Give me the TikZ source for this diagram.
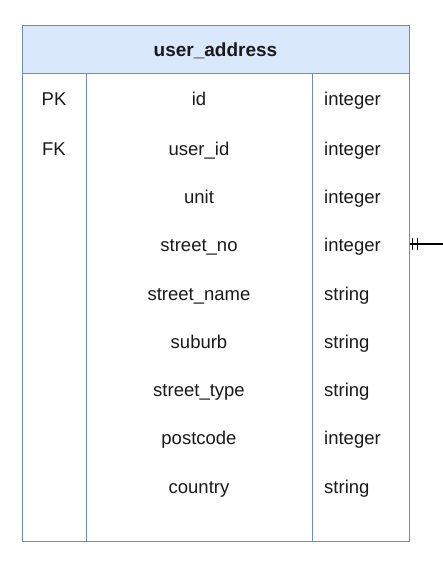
\documentclass[tikz,border=0pt]{standalone}
\usepackage{fontspec}
\setmainfont{Liberation Sans}
\usetikzlibrary{calc}

\definecolor{headfill}{HTML}{DAE8FC}
\definecolor{headline}{HTML}{6C8EBF}
\definecolor{txt}{HTML}{1A1A1A}

\tikzset{
	cell/.style={draw=headline, line width=1pt, inner sep=0pt},
	field/.style={text=txt, font=\fontsize{18.5}{22}\selectfont, inner sep=0pt, text height=16pt, text depth=2pt},
	ftype/.style={field, anchor=west},
}

\begin{document}
\begin{tikzpicture}[x=1pt, y=-1pt]
	\useasboundingbox[fill=white] (0,0) rectangle (443,575);

	% table frame
	\node[cell, minimum width=387pt, minimum height=515pt] (tbl) at (215.5,283.5) {};
	\node[cell, fill=headfill, minimum width=387pt, minimum height=48pt, field, font=\fontsize{19}{22}\selectfont\bfseries] (head) at (215.5,50) {user\_address};
	\coordinate (c1) at (86,74);
	\coordinate (c2) at (312,74);
	\draw[headline, line width=1pt] (c1) -- (c1 |- tbl.south);
	\draw[headline, line width=1pt] (c2) -- (c2 |- tbl.south);

	% keys
	\node[field] (k1) at (54,99) {PK};
	\node[field] (k2) at (54,148) {FK};

	% names
	\node[field] (n1) at (199,99) {id};
	\node[field] (n2) at (199,148) {user\_id};
	\node[field] (n3) at (199,196) {unit};
	\node[field] (n4) at (199,244) {street\_no};
	\node[field] (n5) at (199,293) {street\_name};
	\node[field] (n6) at (199,341) {suburb};
	\node[field] (n7) at (199,389) {street\_type};
	\node[field] (n8) at (199,437) {postcode};
	\node[field] (n9) at (199,486) {country};

	% types
	\node[ftype] (t1) at (324,99) {integer};
	\node[ftype] (t2) at (324,148) {integer};
	\node[ftype] (t3) at (324,196) {integer};
	\node[ftype] (t4) at (324,244) {integer};
	\node[ftype] (t5) at (324,293) {string};
	\node[ftype] (t6) at (324,341) {string};
	\node[ftype] (t7) at (324,389) {string};
	\node[ftype] (t8) at (324,437) {integer};
	\node[ftype] (t9) at (324,486) {string};

	% relation to user table
	\coordinate (fk) at (443,244);
	\coordinate (fkin) at (tbl.east |- t4);
	\draw[line width=1.2pt] (fkin) -- (fk);
	\draw[line width=1.2pt] ($(fkin)+(3,-6)$) -- ($(fkin)+(3,6)$);
	\draw[line width=1.2pt] ($(fkin)+(8,-6)$) -- ($(fkin)+(8,6)$);
\end{tikzpicture}
\end{document}
